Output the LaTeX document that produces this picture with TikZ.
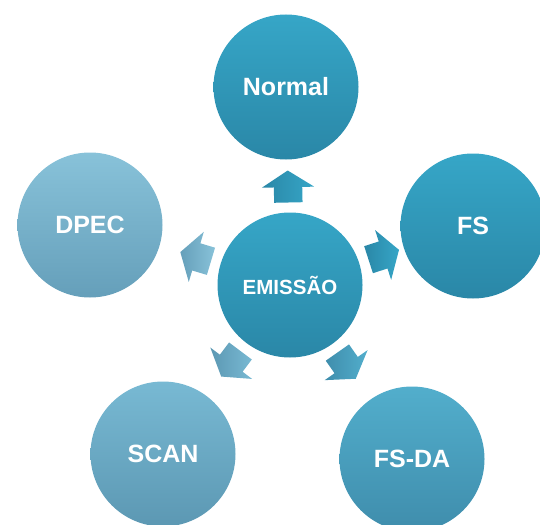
\documentclass[tikz,border=0pt]{standalone}
\usepackage{fontspec}
\setmainfont{Liberation Sans}
\usetikzlibrary{shapes.arrows,calc}
\definecolor{tealtop}{HTML}{36A6C7}
\definecolor{tealbot}{HTML}{2A87A7}
\definecolor{lighttop}{HTML}{88C2D9}
\definecolor{lightbot}{HTML}{659FBA}
\definecolor{scantop}{HTML}{78B9D3}
\definecolor{scanbot}{HTML}{5C98B3}
\definecolor{fsdatop}{HTML}{52AECC}
\definecolor{fsdabot}{HTML}{3F8DAC}
\begin{document}
\begin{tikzpicture}[x=1pt,y=-1pt,
  bubble/.style={circle, minimum size=145pt, inner sep=0pt, text=white,
    font=\bfseries\fontsize{25}{25}\selectfont},
  blockarrow/.style={single arrow, draw=none, minimum height=32pt,
    inner xsep=0pt, inner ysep=14pt, single arrow head extend=12pt,
    single arrow tip angle=115}
]
\useasboundingbox (0,0) rectangle (540,524);
\node[bubble, top color=tealtop, bottom color=tealbot,
  font=\bfseries\fontsize{20.5}{20.5}\selectfont] (c) at (290,285) {EMISSÃO};
\node[bubble, top color=tealtop, bottom color=tealbot] (n) at (286,87) {Normal};
\node[bubble, top color=tealtop, bottom color=tealbot] (fs) at (473,226) {FS};
\node[bubble, top color=lighttop, bottom color=lightbot] (d) at (90,225) {DPEC};
\node[bubble, top color=scantop, bottom color=scanbot] (s) at (163,454) {SCAN};
\node[bubble, top color=fsdatop, bottom color=fsdabot] (fd) at (412,459) {FS-DA};
\foreach \t/\ct/\cb in {n/tealtop/tealbot, fs/tealtop/tealbot, d/lighttop/lightbot,
  s/scantop/scanbot, fd/fsdatop/fsdabot}{
  \path let \p1=($(\t)-(c)$), \n1={atan2(\y1,\x1)} in
    node[blockarrow, rotate=\n1, left color=\cb, right color=\ct]
      (a\t) at ($(c)!94pt!(\t)$) {};
}
\end{tikzpicture}
\end{document}
